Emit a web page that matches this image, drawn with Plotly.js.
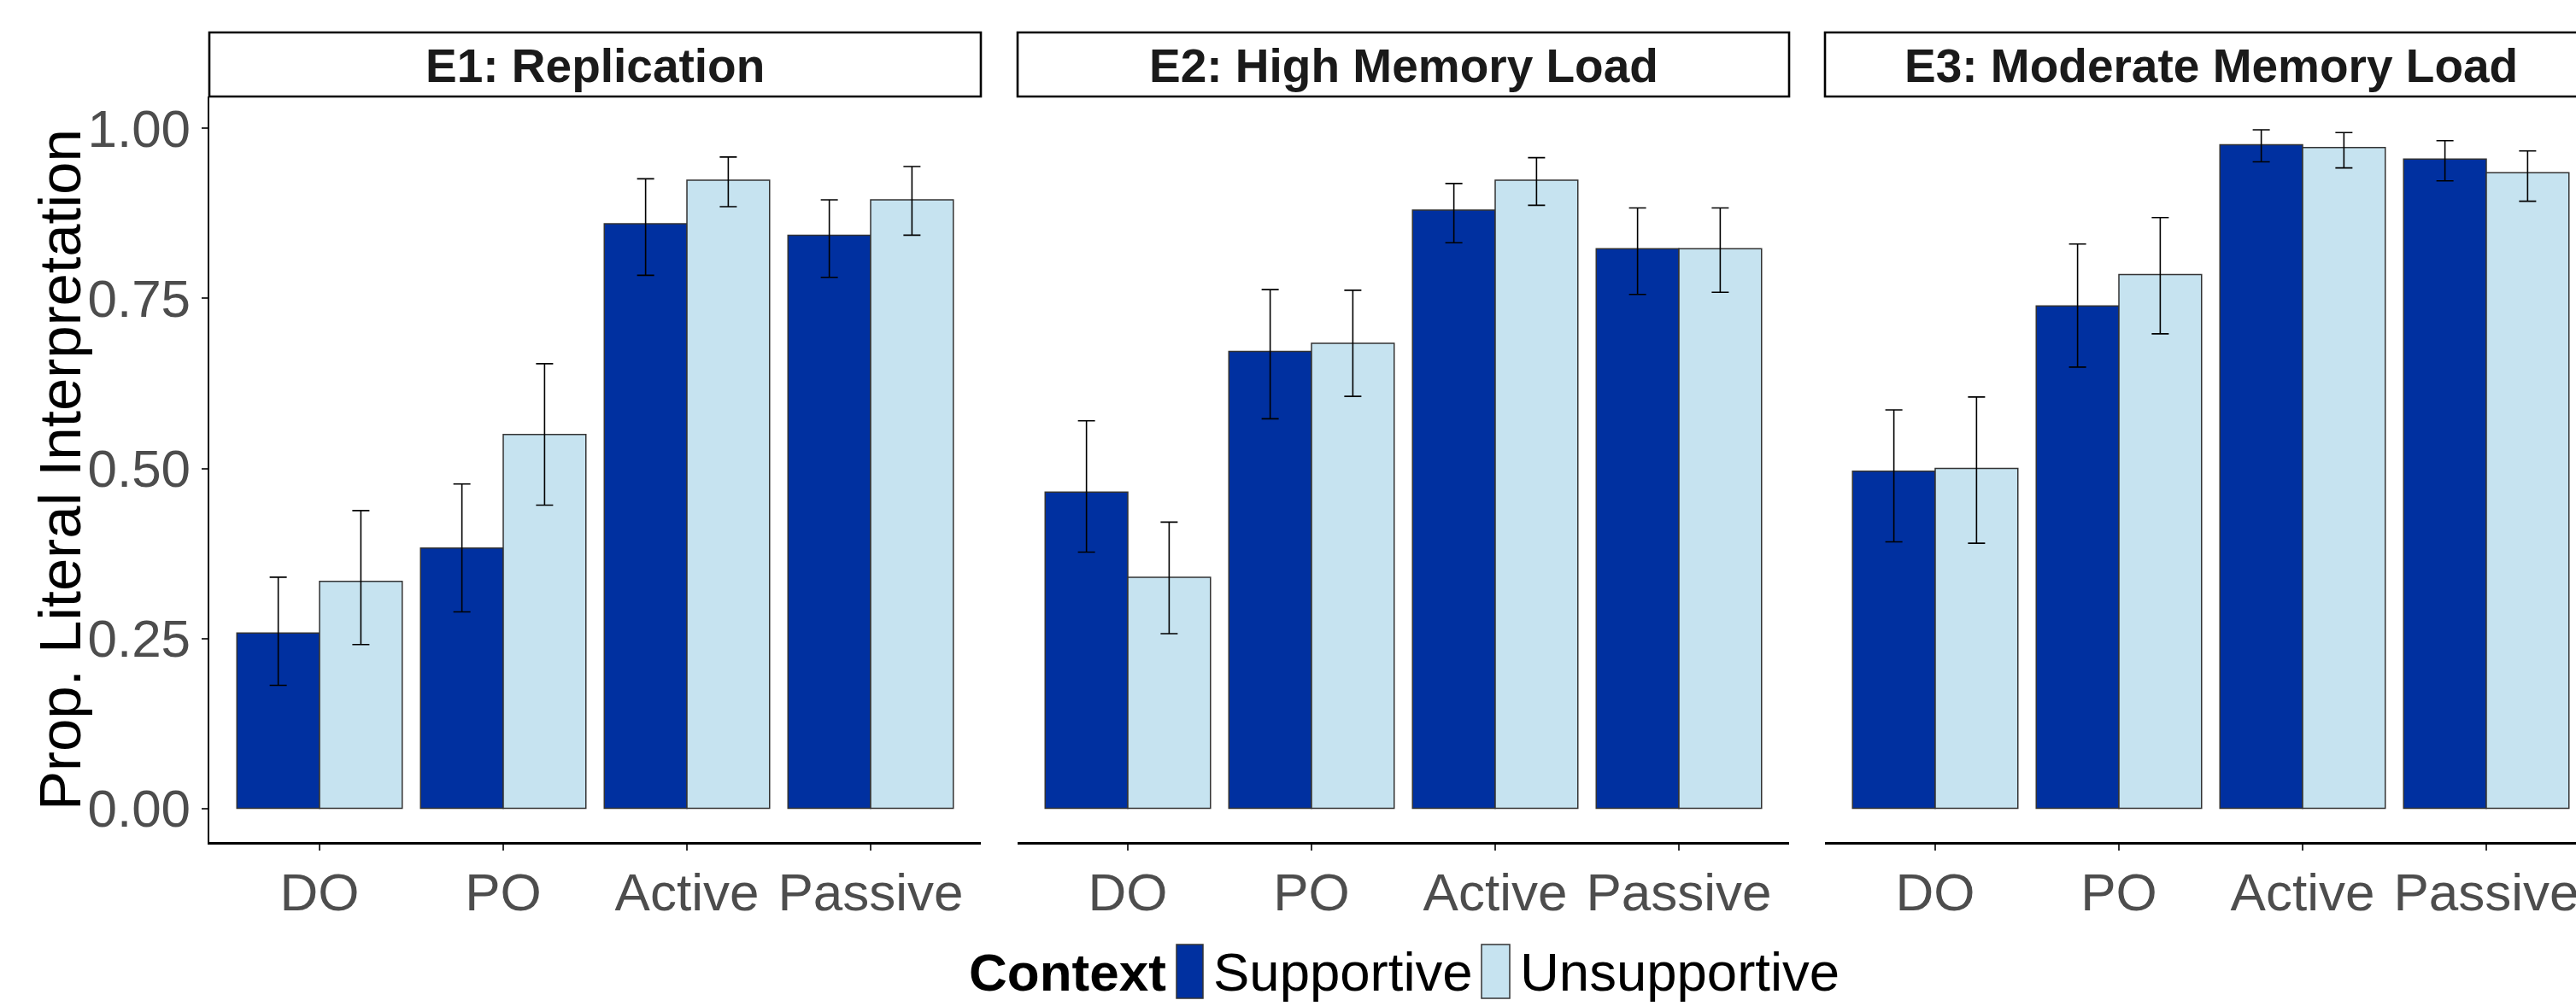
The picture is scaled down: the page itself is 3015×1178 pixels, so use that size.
<!DOCTYPE html>
<html>
<head>
<meta charset="utf-8">
<script src="https://cdn.plot.ly/plotly-3.0.1.min.js"></script>
<style>
  html, body { margin: 0; padding: 0; background: #ffffff; overflow: hidden; }
  #chart { width: 3045px; height: 1178px; }
</style>
</head>
<body>
<div id="chart"></div>
<script>
// ---------------- DATA ----------------
const categories = ['DO', 'PO', 'Active', 'Passive'];
const panelTitles = ['E1: Replication', 'E2: High Memory Load', 'E3: Moderate Memory Load'];
const contextLevels = ['Supportive', 'Unsupportive'];
const yAxisTitle = 'Prop. Literal Interpretation';
const legendTitle = 'Context';
const yTickVals = [0, 0.25, 0.5, 0.75, 1.0];
const yTickText = ['0.00', '0.25', '0.50', '0.75', '1.00'];

// E1: Replication
const e1Supportive       = [0.258, 0.383, 0.860, 0.843];
const e1SupportiveLow    = [0.181, 0.289, 0.784, 0.781];
const e1SupportiveHigh   = [0.340, 0.477, 0.926, 0.895];
const e1Unsupportive     = [0.334, 0.550, 0.924, 0.895];
const e1UnsupportiveLow  = [0.241, 0.446, 0.885, 0.843];
const e1UnsupportiveHigh = [0.438, 0.654, 0.958, 0.944];

// E2: High Memory Load
const e2Supportive       = [0.465, 0.672, 0.880, 0.823];
const e2SupportiveLow    = [0.377, 0.573, 0.832, 0.756];
const e2SupportiveHigh   = [0.570, 0.763, 0.919, 0.883];
const e2Unsupportive     = [0.340, 0.684, 0.924, 0.823];
const e2UnsupportiveLow  = [0.257, 0.606, 0.887, 0.759];
const e2UnsupportiveHigh = [0.421, 0.762, 0.957, 0.883];

// E3: Moderate Memory Load
const e3Supportive       = [0.496, 0.739, 0.976, 0.955];
const e3SupportiveLow    = [0.392, 0.649, 0.951, 0.923];
const e3SupportiveHigh   = [0.586, 0.830, 0.998, 0.982];
const e3Unsupportive     = [0.500, 0.785, 0.972, 0.935];
const e3UnsupportiveLow  = [0.390, 0.698, 0.942, 0.893];
const e3UnsupportiveHigh = [0.605, 0.869, 0.994, 0.967];

// ---------------- STYLE / LAYOUT ----------------
const COL_SUP = '#0030A0';
const COL_UNS = '#C6E3F0';
const FONT = 'Liberation Sans, Arial, Helvetica, sans-serif';

const W = 3045, H = 1178;
const L = 245, R = 6, T = 113, B = 192;
const PW = W - L - R, PH = H - T - B;
const xp = px => (px - L) / PW;
const yp = py => (H - B - py) / PH;

const panelLeft = [245, 1191, 2136];
const panelWidth = 903;

const panels = [
  {sup: e1Supportive, supLo: e1SupportiveLow, supHi: e1SupportiveHigh,
   uns: e1Unsupportive, unsLo: e1UnsupportiveLow, unsHi: e1UnsupportiveHigh},
  {sup: e2Supportive, supLo: e2SupportiveLow, supHi: e2SupportiveHigh,
   uns: e2Unsupportive, unsLo: e2UnsupportiveLow, unsHi: e2UnsupportiveHigh},
  {sup: e3Supportive, supLo: e3SupportiveLow, supHi: e3SupportiveHigh,
   uns: e3Unsupportive, unsLo: e3UnsupportiveLow, unsHi: e3UnsupportiveHigh}
];

const traces = [];
panels.forEach((p, i) => {
  const xa = i === 0 ? 'x' : 'x' + (i + 1);
  const ya = i === 0 ? 'y' : 'y' + (i + 1);
  const mk = (name, vals, lo, hi, color) => ({
    type: 'bar', name: name, x: categories, y: vals,
    xaxis: xa, yaxis: ya, showlegend: false,
    marker: {color: color, line: {color: '#333333', width: 1.5}},
    error_y: {type: 'data', symmetric: false,
      array: hi.map((h, k) => h - vals[k]),
      arrayminus: lo.map((l, k) => vals[k] - l),
      color: '#000000', thickness: 1.6, width: 10},
    hoverinfo: 'x+y+name'
  });
  traces.push(mk(contextLevels[0], p.sup, p.supLo, p.supHi, COL_SUP));
  traces.push(mk(contextLevels[1], p.uns, p.unsLo, p.unsHi, COL_UNS));
});

const layout = {
  width: W, height: H,
  margin: {l: L, r: R, t: T, b: B, pad: 0},
  paper_bgcolor: '#ffffff', plot_bgcolor: '#ffffff',
  font: {family: FONT, color: '#000000'},
  barmode: 'group', bargap: 0.1, bargroupgap: 0,
  showlegend: false,
  shapes: [], annotations: []
};

const yRange = [-0.0495, 1.047];
const baseX = {
  type: 'category', categoryorder: 'array', categoryarray: categories,
  range: [-0.6, 3.6], showgrid: false, zeroline: false,
  showline: true, linecolor: '#000000', linewidth: 2.5,
  ticks: 'outside', ticklen: 7, tickwidth: 2, tickcolor: '#333333',
  ticklabelstandoff: -4,
  tickfont: {family: FONT, size: 62, color: '#4D4D4D'},
  fixedrange: true
};

for (let i = 0; i < 3; i++) {
  const sfx = i === 0 ? '' : String(i + 1);
  const d0 = xp(panelLeft[i]), d1 = xp(panelLeft[i] + panelWidth);
  layout['xaxis' + sfx] = Object.assign({}, baseX, {
    domain: [d0, d1], anchor: 'y' + sfx
  });
  if (i === 0) {
    layout.yaxis = {
      range: yRange, domain: [0, 1], anchor: 'x',
      showgrid: false, zeroline: false,
      showline: true, linecolor: '#000000', linewidth: 2.5,
      ticks: 'outside', ticklen: 7, tickwidth: 2, tickcolor: '#333333',
      tickvals: yTickVals, ticktext: yTickText,
      tickfont: {family: FONT, size: 62, color: '#4D4D4D'},
      fixedrange: true
    };
  } else {
    layout['yaxis' + sfx] = {
      range: yRange, domain: [0, 1], anchor: 'x' + sfx, matches: 'y',
      showgrid: false, zeroline: false, showline: false,
      showticklabels: false, ticks: '', fixedrange: true
    };
  }
  // facet strip
  layout.shapes.push({
    type: 'rect', xref: 'paper', yref: 'paper',
    x0: d0, x1: d1, y0: yp(113), y1: yp(38),
    fillcolor: '#ffffff', line: {color: '#000000', width: 2.6}, layer: 'above'
  });
  layout.annotations.push({
    xref: 'paper', yref: 'paper', x: (d0 + d1) / 2, y: yp(77),
    xanchor: 'center', yanchor: 'middle', showarrow: false,
    text: '<b>' + panelTitles[i] + '</b>',
    font: {family: FONT, size: 55, color: '#1A1A1A'}
  });
}

// y-axis title
layout.annotations.push({
  xref: 'paper', yref: 'paper', x: xp(70), y: yp(550),
  xanchor: 'center', yanchor: 'middle', showarrow: false, textangle: -90,
  text: yAxisTitle, font: {family: FONT, size: 69, color: '#000000'}
});

// legend (drawn manually to reproduce the large key boxes)
const legY = 1138;
layout.annotations.push({
  xref: 'paper', yref: 'paper', x: xp(1132), y: yp(legY),
  xanchor: 'left', yanchor: 'middle', showarrow: false,
  text: '<b>' + legendTitle + '</b>', font: {family: FONT, size: 62, color: '#000000'}
});
layout.shapes.push({
  type: 'rect', xref: 'paper', yref: 'paper',
  x0: xp(1377), x1: xp(1408), y0: yp(1169), y1: yp(1106),
  fillcolor: COL_SUP, line: {color: '#333333', width: 1.5}
});
layout.annotations.push({
  xref: 'paper', yref: 'paper', x: xp(1418), y: yp(legY),
  xanchor: 'left', yanchor: 'middle', showarrow: false,
  text: contextLevels[0], font: {family: FONT, size: 63.5, color: '#000000'}
});
layout.shapes.push({
  type: 'rect', xref: 'paper', yref: 'paper',
  x0: xp(1734), x1: xp(1767), y0: yp(1169), y1: yp(1106),
  fillcolor: COL_UNS, line: {color: '#333333', width: 1.5}
});
layout.annotations.push({
  xref: 'paper', yref: 'paper', x: xp(1777), y: yp(legY),
  xanchor: 'left', yanchor: 'middle', showarrow: false,
  text: contextLevels[1], font: {family: FONT, size: 63.5, color: '#000000'}
});

Plotly.newPlot('chart', traces, layout, {displayModeBar: false, staticPlot: true});
</script>
</body>
</html>
